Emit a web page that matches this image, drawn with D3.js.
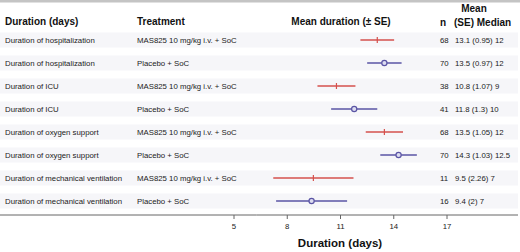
<!DOCTYPE html>
<html><head><meta charset="utf-8">
<script src="https://cdn.jsdelivr.net/npm/d3@7"></script>
<style>body{margin:0;background:#fff}svg{display:block;font-family:"Liberation Sans",Arial,sans-serif}</style>
</head><body><svg id="c" width="520" height="252"></svg>
<script>
const outcomes = ["Duration of hospitalization","Duration of hospitalization","Duration of ICU","Duration of ICU","Duration of oxygen support","Duration of oxygen support","Duration of mechanical ventilation","Duration of mechanical ventilation"];
const treatments = ["MAS825 10 mg/kg i.v. + SoC","Placebo + SoC","MAS825 10 mg/kg i.v. + SoC","Placebo + SoC","MAS825 10 mg/kg i.v. + SoC","Placebo + SoC","MAS825 10 mg/kg i.v. + SoC","Placebo + SoC"];
const nValues = [68,70,38,41,68,70,11,16];
const means = [13.1,13.5,10.8,11.8,13.5,14.3,9.5,9.4];
const ses = [0.95,0.97,1.07,1.3,1.05,1.03,2.26,2];
const medians = ["12","12","9","10","12","12.5","7","7"];
const tickValues = [5,8,11,14,17];

const svg = d3.select("#c");
const red = "#d5504c", blue = "#5a54a4";
const x = d3.scaleLinear().domain([5,17]).range([233.5,446.5]);
const y = d3.scaleLinear().domain([0,7]).range([40,201]);

svg.append("rect").attr("x",0).attr("y",0).attr("width",520).attr("height",2.5).attr("fill","#c4c4c4");

// bands
outcomes.forEach((o,i)=>{
  svg.append("rect").attr("x",0).attr("y",y(i)-7.5).attr("width",518).attr("height",15).attr("fill","#f6f6f9");
});

// headers
const hb = svg.append("g").attr("font-weight","bold").attr("font-size",10).attr("fill","#111");
hb.append("text").attr("x",5).attr("y",25).text("Duration (days)");
hb.append("text").attr("x",137).attr("y",25).text("Treatment");
hb.append("text").attr("x",341).attr("y",25).attr("text-anchor","middle").text("Mean duration (± SE)");
hb.append("text").attr("x",440).attr("y",26).text("n");
hb.append("text").attr("x",474).attr("y",12).attr("text-anchor","middle").text("Mean");
hb.append("text").attr("x",454).attr("y",26).text("(SE) Median");

// rows text
const rt = svg.append("g").attr("font-size",7.8).attr("fill","#222");
outcomes.forEach((o,i)=>{
  const yy = y(i)+2.8;
  rt.append("text").attr("x",5).attr("y",yy).text(o);
  rt.append("text").attr("x",137).attr("y",yy).text(treatments[i]);
  rt.append("text").attr("x",440).attr("y",yy).text(nValues[i]);
  rt.append("text").attr("x",455).attr("y",yy).text(`${means[i]} (${ses[i]}) ${medians[i]}`);
});

// marks
means.forEach((m,i)=>{
  const col = i%2===0 ? red : blue;
  const yy = y(i);
  svg.append("line").attr("x1",x(m-ses[i])).attr("x2",x(m+ses[i])).attr("y1",yy).attr("y2",yy).attr("stroke",col).attr("stroke-width",1.5);
  if(i%2===0){
    svg.append("line").attr("x1",x(m)).attr("x2",x(m)).attr("y1",yy-3).attr("y2",yy+3).attr("stroke",col).attr("stroke-width",1.2);
  } else {
    svg.append("circle").attr("cx",x(m)).attr("cy",yy).attr("r",2.6).attr("fill","#dcdcf0").attr("stroke",col).attr("stroke-width",1.2);
  }
});

// axis
const ax = svg.append("g").attr("transform","translate(0,215)");
ax.append("line").attr("x1",0).attr("x2",518).attr("stroke","#666").attr("stroke-width",1);
const axis = d3.axisBottom(x).tickValues(tickValues).tickSize(4).tickPadding(4).tickFormat(d3.format("d"));
const ag = ax.append("g").call(axis);
ag.select(".domain").remove();
ag.selectAll("line").attr("stroke","#666");
ag.selectAll("text").attr("font-size",7.8).attr("fill","#222").attr("font-family","Liberation Sans, Arial, sans-serif");

svg.append("text").attr("x",340).attr("y",247).attr("text-anchor","middle").attr("font-weight","bold").attr("font-size",11.5).attr("fill","#111").text("Duration (days)");
</script></body></html>
